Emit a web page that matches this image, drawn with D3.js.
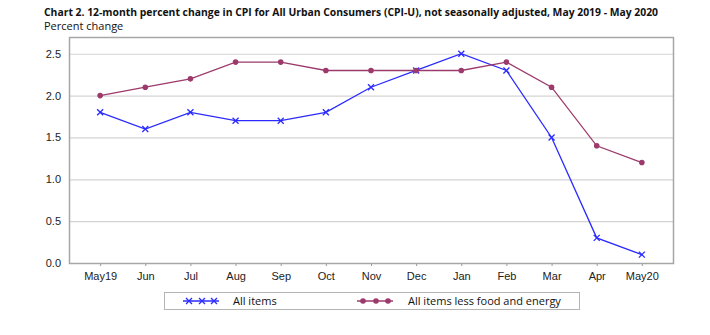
<!DOCTYPE html>
<html>
<head>
<meta charset="utf-8">
<script src="https://cdn.jsdelivr.net/npm/d3@7"></script>
<style>
	body { margin: 0; background: #fff; }
	svg { display: block; font-family: "Open Sans", "DejaVu Sans", sans-serif; }
</style>
</head>
<body>
<div id="chart"></div>
<script>
'use strict';

// CPI-U 12-month percent change, May 2019 - May 2020
var months = ['May19', 'Jun', 'Jul', 'Aug', 'Sep', 'Oct', 'Nov', 'Dec', 'Jan', 'Feb', 'Mar', 'Apr', 'May20'];
var allItems = [1.8, 1.6, 1.8, 1.7, 1.7, 1.8, 2.1, 2.3, 2.5, 2.3, 1.5, 0.3, 0.1];
var coreItems = [2.0, 2.1, 2.2, 2.4, 2.4, 2.3, 2.3, 2.3, 2.3, 2.4, 2.1, 1.4, 1.2];
var yTicks = [0, 0.5, 1.0, 1.5, 2.0, 2.5];

var series = [
	{ name: 'All items', values: allItems, color: '#2b2bff', marker: 'x' },
	{ name: 'All items less food and energy', values: coreItems, color: '#9c3a6c', marker: 'dot' }
];

var W = 710, H = 335,
	plot = { left: 69, right: 673, top: 37, bottom: 263 };

var svg = d3.select('#chart').append('svg')
	.attr('width', W)
	.attr('height', H);

svg.append('text')
	.attr('x', 44).attr('y', 16)
	.style('font-size', '11px')
	.style('font-weight', 'bold')
	.attr('fill', '#111')
	.attr('textLength', 614)
	.attr('lengthAdjust', 'spacingAndGlyphs')
	.text('Chart 2. 12-month percent change in CPI for All Urban Consumers (CPI-U), not seasonally adjusted, May 2019 - May 2020');

svg.append('text')
	.attr('x', 44).attr('y', 30)
	.style('font-size', '11px')
	.attr('fill', '#111')
	.text('Percent change');

var x = d3.scalePoint()
	.domain(months)
	.range([plot.left, plot.right])
	.padding(0.69);

var y = d3.scaleLinear()
	.domain([0, 2.7])
	.range([plot.bottom, plot.top]);

// gridlines
svg.append('g')
	.selectAll('line')
	.data(yTicks.filter(function (d) { return d > 0; }))
	.join('line')
	.attr('x1', plot.left).attr('x2', plot.right)
	.attr('y1', function (d) { return y(d) + 0.5; })
	.attr('y2', function (d) { return y(d) + 0.5; })
	.attr('stroke', '#d4d4d4')
	.attr('stroke-width', 1.2);

// y axis labels
var yAxis = svg.append('g')
	.attr('transform', 'translate(' + plot.left + ',0)')
	.call(d3.axisLeft(y).tickValues(yTicks).tickFormat(d3.format('.1f')).tickSize(0).tickPadding(8));
yAxis.select('.domain').remove();
yAxis.selectAll('text').style('font-size', '11px').attr('fill', '#222');

// x axis
var xAxis = svg.append('g')
	.attr('transform', 'translate(0,' + plot.bottom + ')')
	.call(d3.axisBottom(x).tickSize(3).tickPadding(6));
xAxis.select('.domain').remove();
xAxis.selectAll('line').attr('stroke', '#999');
xAxis.selectAll('text').style('font-size', '11px').attr('fill', '#222');

// plot frame
svg.append('rect')
	.attr('x', plot.left + 0.5).attr('y', plot.top + 0.5)
	.attr('width', plot.right - plot.left)
	.attr('height', plot.bottom - plot.top)
	.attr('fill', 'none')
	.attr('stroke', '#a6a6a6')
	.attr('stroke-width', 1.5);

var line = d3.line()
	.x(function (d, i) { return x(months[i]); })
	.y(function (d) { return y(d); });

function drawMarker(g, kind, color) {
	if (kind === 'x') {
		g.append('path')
			.attr('d', 'M-3,-3L3,3M-3,3L3,-3')
			.attr('stroke', color)
			.attr('stroke-width', 1.3);
	} else {
		g.append('circle')
			.attr('r', 2.8)
			.attr('fill', color);
	}
}

series.forEach(function (s) {
	svg.append('path')
		.datum(s.values)
		.attr('d', line)
		.attr('fill', 'none')
		.attr('stroke', s.color)
		.attr('stroke-width', 1.3);

	svg.append('g')
		.selectAll('g')
		.data(s.values)
		.join('g')
		.attr('transform', function (d, i) { return 'translate(' + x(months[i]) + ',' + y(d) + ')'; })
		.each(function () { drawMarker(d3.select(this), s.marker, s.color); });
});

// legend
var legend = svg.append('g');
legend.append('rect')
	.attr('x', 164.5).attr('y', 292.5)
	.attr('width', 415).attr('height', 17)
	.attr('fill', 'none')
	.attr('stroke', '#b5b5b5')
	.attr('stroke-width', 1);

var legendPos = [{ lx: 183, tx: 233 }, { lx: 357, tx: 408 }];
series.forEach(function (s, i) {
	var p = legendPos[i], ly = 301;
	legend.append('line')
		.attr('x1', p.lx).attr('x2', p.lx + 36)
		.attr('y1', ly).attr('y2', ly)
		.attr('stroke', s.color)
		.attr('stroke-width', 1.3);
	[6, 19, 31].forEach(function (dx) {
		var m = legend.append('g').attr('transform', 'translate(' + (p.lx + dx) + ',' + ly + ')');
		drawMarker(m, s.marker, s.color);
	});
	legend.append('text')
		.attr('x', p.tx).attr('y', ly + 4)
		.style('font-size', '11px')
		.attr('fill', '#111')
		.text(s.name);
});
</script>
</body>
</html>
